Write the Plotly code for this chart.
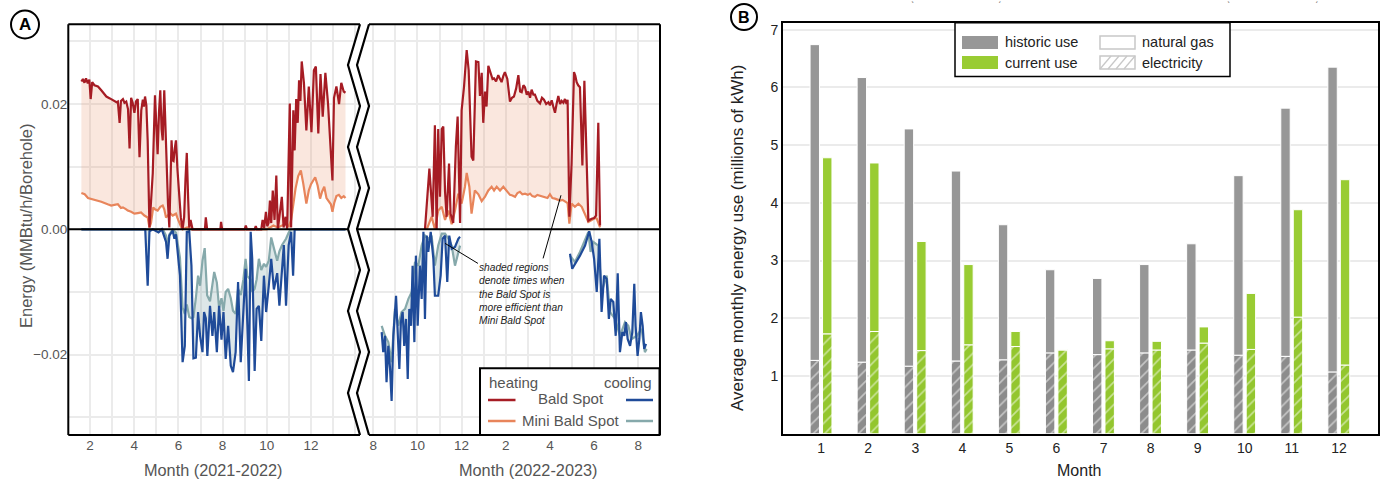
import plotly.graph_objects as go

W, H = 1381, 483

# ---------------- Panel A data (month index, value in 0.001 MMBtu/h/Borehole) ----------------
# left period: months numbered from Jan 2021 = 1 (13 = Jan 2022)
lh_bs = [(1.61,23.6),(1.68,24.0),(1.75,23.4),(1.82,24.1),(1.9,23.3),(1.97,23.9),(2.03,20.8),(2.1,23.5),(2.2,23.0),(2.36,22.8),(2.51,22.2),(2.62,21.8),(2.74,21.2),(2.9,20.9),(3.05,20.6),(3.2,20.3),(3.26,20.4),(3.34,17.0),(3.4,20.5),(3.49,20.8),(3.56,20.2),(3.64,20.4),(3.72,19.2),(3.79,12.9),(3.86,21.0),(3.93,20.2),(4.01,18.6),(4.08,20.4),(4.16,20.8),(4.24,11.5),(4.32,19.0),(4.39,20.7),(4.44,19.6),(4.49,21.2),(4.55,19.8),(4.61,14.2),(4.69,0.3),(4.76,4.5),(4.84,9.0),(4.94,21.4),(5.0,17.0),(5.06,12.0),(5.12,18.5),(5.18,22.2),(5.24,16.0),(5.29,14.2),(5.36,22.2),(5.42,15.0),(5.48,9.4),(5.53,4.0),(5.59,0.3),(5.64,8.0),(5.69,14.2),(5.74,11.0),(5.78,10.9),(5.84,13.0),(5.89,14.2),(5.96,9.4),(6.03,5.0),(6.11,1.9),(6.19,0.0),(6.26,2.0),(6.32,8.0),(6.38,12.2),(6.44,5.0),(6.49,0.3),(6.55,1.5),(6.64,0.0),(7.0,0.0),(7.2,0.0),(7.24,1.9),(7.3,0.0),(7.9,0.0),(7.93,1.2),(7.98,0.0),(9.0,0.0),(9.05,0.6),(9.1,0.0),(9.45,0.0),(9.5,0.5),(9.55,0.0),(9.75,0.0),(9.81,1.5),(9.88,0.2),(9.96,2.8),(10.02,0.5),(10.08,1.0),(10.14,4.6),(10.2,1.0),(10.27,6.2),(10.35,1.5),(10.43,8.6),(10.5,0.0),(10.58,2.5),(10.68,5.2),(10.76,0.3),(10.85,2.0),(10.92,0.0),(10.98,9.4),(11.04,20.1),(11.1,0.3),(11.2,19.0),(11.26,12.6),(11.33,20.8),(11.4,17.0),(11.46,23.8),(11.52,20.5),(11.58,26.8),(11.68,23.4),(11.79,15.8),(11.9,22.8),(11.96,18.0),(12.02,15.5),(12.13,25.4),(12.22,26.0),(12.33,15.3),(12.43,24.8),(12.53,18.0),(12.65,25.0),(12.77,20.1),(12.89,13.7),(12.97,7.8),(13.04,21.0),(13.15,22.8),(13.27,20.0),(13.37,23.4),(13.48,22.0),(13.56,21.8)]
lh_mini = [(1.61,5.8),(1.76,5.6),(1.91,5.0),(2.1,4.8),(2.36,4.6),(2.51,4.4),(2.8,4.0),(2.96,3.8),(3.1,3.9),(3.26,4.0),(3.4,3.4),(3.49,3.5),(3.64,3.2),(3.71,3.0),(3.86,2.8),(4.01,2.5),(4.16,2.6),(4.31,2.7),(4.46,2.2),(4.61,1.9),(4.69,0.3),(4.76,1.0),(4.86,3.5),(4.94,3.2),(5.06,3.0),(5.18,3.6),(5.29,3.8),(5.36,3.2),(5.44,1.9),(5.51,2.2),(5.62,2.6),(5.74,2.2),(5.89,2.5),(5.96,1.8),(6.04,1.0),(6.11,0.5),(6.19,0.0),(6.4,0.3),(6.6,0.0),(10.0,0.0),(10.3,0.6),(10.5,0.3),(10.8,0.8),(11.0,0.5),(11.1,1.5),(11.2,4.0),(11.3,6.5),(11.42,8.5),(11.54,9.4),(11.65,7.3),(11.72,6.0),(11.79,4.1),(11.9,6.2),(12.0,7.2),(12.1,7.8),(12.19,8.3),(12.3,7.0),(12.41,4.9),(12.5,6.0),(12.6,6.8),(12.7,5.0),(12.8,4.5),(12.9,4.0),(12.97,2.8),(13.05,4.2),(13.15,5.3),(13.26,5.5),(13.37,5.0),(13.48,5.3),(13.56,5.0)]
lc_bs = [(1.61,0.0),(4.5,0.0),(4.61,-9.0),(4.69,-0.3),(4.84,0.0),(5.0,-0.3),(5.1,-0.5),(5.25,0.0),(5.44,-2.0),(5.51,-4.7),(5.59,-1.0),(5.74,-0.2),(5.82,-1.5),(5.89,-0.8),(5.96,-3.7),(6.07,-7.4),(6.19,-21.2),(6.29,-18.6),(6.38,-0.4),(6.49,-0.3),(6.59,-5.8),(6.68,-20.6),(6.79,-20.5),(6.89,-13.2),(6.98,-17.0),(7.09,-19.6),(7.16,-13.2),(7.24,-14.2),(7.31,-20.2),(7.43,-12.2),(7.54,-17.0),(7.62,-13.2),(7.74,-19.6),(7.84,-12.2),(7.95,-17.6),(8.04,-13.2),(8.14,-20.7),(8.25,-15.4),(8.37,-21.8),(8.47,-22.8),(8.59,-19.6),(8.7,-8.4),(8.82,-21.2),(8.94,-12.7),(9.04,-6.3),(9.12,-15.4),(9.19,-24.2),(9.27,-0.4),(9.34,-4.7),(9.45,-22.6),(9.54,-12.7),(9.64,-12.2),(9.75,-17.8),(9.87,-7.4),(9.97,-13.2),(10.09,-9.0),(10.2,-4.7),(10.32,-9.6),(10.47,-7.0),(10.57,-12.2),(10.69,-5.3),(10.77,-2.5),(10.87,-12.2),(10.99,-2.5),(11.1,-0.4),(11.19,-7.4),(11.26,0.0),(13.56,0.0)]
lc_mini = [(1.61,0.0),(5.3,0.0),(5.44,-1.0),(5.51,-2.5),(5.59,-0.8),(5.74,0.0),(5.89,-0.5),(5.96,-2.0),(6.07,-4.5),(6.19,-12.5),(6.29,-13.5),(6.38,-12.0),(6.49,-14.0),(6.59,-14.2),(6.68,-14.0),(6.79,-11.0),(6.89,-7.4),(6.98,-9.0),(7.09,-5.0),(7.19,-3.0),(7.3,-10.5),(7.43,-11.5),(7.54,-9.0),(7.62,-6.8),(7.74,-8.5),(7.84,-12.5),(7.95,-11.0),(8.04,-13.0),(8.14,-10.0),(8.25,-9.5),(8.37,-11.0),(8.47,-13.0),(8.59,-13.5),(8.7,-9.5),(8.82,-10.5),(8.94,-8.0),(9.04,-4.7),(9.12,-7.5),(9.27,-8.0),(9.34,-10.0),(9.45,-9.5),(9.54,-8.0),(9.64,-4.7),(9.75,-6.5),(9.87,-5.5),(9.97,-6.0),(10.09,-5.0),(10.2,-1.3),(10.32,-3.0),(10.47,-5.0),(10.57,-3.5),(10.69,-2.5),(10.87,-1.5),(10.99,-0.5),(11.1,0.0),(13.56,0.0)]

# right period: months numbered from Jan 2022 = 1 (14 = Feb 2023, 20 = Aug 2023)
rh_bs = [(10.34,0.0),(10.54,9.7),(10.69,2.0),(10.79,16.6),(10.87,0.0),(10.94,16.0),(11.02,5.2),(11.1,16.0),(11.17,16.4),(11.25,6.0),(11.32,2.0),(11.43,10.5),(11.5,2.5),(11.62,1.0),(11.74,13.2),(11.82,18.0),(11.93,1.0),(12.0,19.0),(12.11,22.8),(12.23,28.6),(12.32,25.4),(12.38,18.6),(12.45,11.6),(12.53,11.0),(12.65,26.8),(12.76,26.7),(12.83,21.3),(12.91,25.0),(12.98,17.0),(13.06,22.0),(13.13,19.6),(13.21,26.1),(13.31,25.1),(13.4,24.0),(13.47,24.1),(13.56,23.6),(13.66,24.6),(13.74,24.0),(13.81,23.5),(13.89,24.5),(13.96,25.1),(14.07,24.0),(14.19,20.4),(14.28,21.0),(14.37,21.2),(14.47,22.5),(14.57,24.6),(14.65,22.0),(14.72,21.9),(14.8,23.0),(14.87,22.7),(14.95,21.5),(15.02,22.0),(15.1,21.0),(15.17,22.3),(15.25,21.5),(15.32,21.5),(15.43,20.5),(15.55,20.1),(15.64,21.0),(15.73,20.7),(15.83,20.0),(15.93,20.3),(16.0,19.8),(16.08,20.6),(16.16,19.5),(16.23,18.6),(16.3,20.0),(16.38,21.3),(16.46,20.0),(16.53,20.5),(16.61,20.2),(16.68,20.8),(16.75,20.0),(16.8,20.7),(16.88,2.0),(16.98,10.5),(17.09,25.1),(17.15,24.5),(17.21,23.5),(17.28,23.0),(17.36,22.7),(17.47,10.2),(17.56,23.7),(17.66,10.0),(17.74,1.4),(17.89,1.7),(18.0,1.8),(18.09,2.2),(18.19,17.0),(18.27,0.6)]
rh_mini = [(10.42,0.0),(10.64,2.0),(10.79,0.0),(10.94,3.0),(11.1,3.6),(11.25,1.5),(11.4,3.0),(11.55,0.8),(11.7,3.0),(11.85,5.7),(12.0,4.1),(12.15,6.8),(12.23,9.0),(12.35,6.8),(12.45,2.5),(12.6,6.2),(12.76,5.6),(12.91,4.5),(13.06,5.2),(13.21,6.2),(13.36,6.8),(13.47,6.2),(13.59,6.8),(13.74,6.2),(13.89,6.8),(14.04,6.2),(14.19,5.5),(14.3,5.4),(14.42,5.2),(14.53,5.8),(14.64,6.0),(14.75,5.6),(14.87,5.7),(15.0,5.5),(15.1,5.7),(15.2,5.3),(15.32,5.2),(15.43,5.5),(15.55,5.4),(15.66,5.2),(15.78,5.2),(15.89,5.0),(16.0,5.6),(16.11,5.0),(16.23,4.9),(16.35,4.8),(16.46,4.6),(16.57,4.7),(16.68,4.5),(16.8,4.2),(16.88,0.9),(16.98,4.1),(17.13,3.6),(17.29,4.1),(17.44,3.6),(17.52,3.0),(17.59,2.2),(17.74,1.2),(17.89,1.5),(18.05,1.8),(18.12,1.7),(18.27,0.3)]
rc_bs_a = [(8.38,-16.4),(8.45,-19.6),(8.53,-17.0),(8.6,-24.4),(8.68,-18.6),(8.76,-22.3),(8.83,-27.4),(8.91,-17.0),(9.03,-10.6),(9.1,-17.0),(9.18,-22.3),(9.25,-14.8),(9.33,-13.2),(9.4,-18.6),(9.48,-14.3),(9.56,-23.9),(9.63,-12.7),(9.71,-15.4),(9.78,-5.8),(9.86,-18.0),(9.93,-4.2),(10.01,-15.4),(10.11,-5.8),(10.19,-11.1),(10.27,-0.4),(10.34,-14.3),(10.42,-1.0),(10.49,-3.6),(10.6,-0.4),(10.72,-4.7),(10.79,-10.6),(10.94,-10.6),(11.05,-7.4),(11.14,-1.5),(11.25,-1.0),(11.35,-8.4),(11.44,-1.0),(11.55,-3.1),(11.7,-2.8),(11.85,-1.5),(11.93,-1.2)]
rc_mini_a = [(8.38,-15.4),(8.53,-17.0),(8.68,-18.0),(8.83,-21.2),(8.98,-12.7),(9.13,-15.4),(9.28,-13.2),(9.44,-12.7),(9.59,-11.1),(9.74,-10.0),(9.89,-5.2),(10.04,-5.8),(10.19,-2.6),(10.34,-1.0),(10.49,-1.5),(10.64,-1.0),(10.79,-5.8),(10.94,-2.6),(11.1,-0.7),(11.25,-0.7),(11.4,-1.5),(11.55,-2.6),(11.7,-5.8),(11.81,-4.2),(11.93,-2.6)]
rc_bs_b = [(16.91,-3.9),(17.01,-6.3),(17.36,-4.2),(17.59,-2.6),(17.78,-0.3),(17.89,-2.0),(18.0,-4.7),(18.12,-10.0),(18.24,-1.5),(18.34,-13.2),(18.45,-7.4),(18.57,-7.9),(18.67,-14.3),(18.75,-11.1),(18.87,-11.6),(18.98,-17.0),(19.07,-7.0),(19.17,-19.6),(19.28,-16.4),(19.37,-17.0),(19.44,-14.8),(19.52,-17.5),(19.63,-18.6),(19.73,-16.4),(19.82,-8.7),(19.88,-15.4),(19.97,-20.2),(20.05,-17.5),(20.12,-13.2),(20.2,-15.4),(20.27,-19.1),(20.35,-18.3)]
rc_mini_b = [(16.91,-4.2),(17.13,-5.2),(17.36,-3.6),(17.59,-1.5),(17.74,-0.4),(17.84,-3.6),(17.96,-2.0),(18.19,-2.6),(18.34,-10.0),(18.57,-7.4),(18.72,-13.2),(18.95,-14.3),(19.17,-17.0),(19.4,-14.8),(19.55,-15.4),(19.7,-17.5),(19.93,-17.0),(20.15,-15.9),(20.3,-19.6),(20.38,-19.1)]

left_ticks = [1,2,3,4,5,6,7,8,9,10,11,12,13,14]
left_ticktext = ['', '2', '', '4', '', '6', '', '8', '', '10', '', '12', '', '']
right_ticks = [8,9,10,11,12,13,14,15,16,17,18,19,20]
right_ticktext = ['8', '', '10', '', '12', '', '2', '', '4', '', '6', '', '8']
a_yticks = [-0.03, -0.02, -0.01, 0.0, 0.01, 0.02, 0.03]
a_yticktext = ['', '\u22120.02', '', '0.00', '', '0.02', '']

# ---------------- Panel B data (millions of kWh) ----------------
months_b = [1, 2, 3, 4, 5, 6, 7, 8, 9, 10, 11, 12]
hist_total = [6.74, 6.17, 5.28, 4.55, 3.62, 2.84, 2.69, 2.93, 3.29, 4.47, 5.64, 6.35]
hist_elec = [1.27, 1.24, 1.17, 1.26, 1.28, 1.40, 1.37, 1.40, 1.45, 1.36, 1.34, 1.07]
curr_total = [4.78, 4.69, 3.33, 2.93, 1.77, 1.46, 1.61, 1.60, 1.85, 2.43, 3.88, 4.40]
curr_elec = [1.73, 1.77, 1.44, 1.54, 1.51, 1.45, 1.47, 1.45, 1.57, 1.46, 2.02, 1.19]

RED, ORANGE, BLUE, TEAL = '#A61C24', '#E8855B', '#1F4B99', '#86A9AB'
HEAT_FILL = 'rgba(232,133,91,0.2)'
COOL_FILL = 'rgba(134,169,171,0.28)'
GRAY_BAR, GREEN_BAR = '#979797', '#99CC33'
GRAY_HATCH, GREEN_HATCH = '#8C8C8C', '#93C62E'
GRID = '#EBEBEB'
FONT = 'Liberation Sans, Arial, sans-serif'
TXT_A = '#555555'
TXT_B = '#222222'


def X(p):
    return p / W


def Y(p):
    return 1 - p / H


fig = go.Figure()


def add_line(pairs, color, xa, ya, fill=None, fillcolor=None):
    fig.add_trace(go.Scatter(
        x=[p[0] for p in pairs], y=[p[1] / 1000 for p in pairs], mode='lines',
        line=dict(color=color, width=2.2), fill=fill, fillcolor=fillcolor,
        xaxis=xa, yaxis=ya, showlegend=False, hoverinfo='skip'))


# left subplot
add_line(lh_mini, ORANGE, 'x', 'y')
add_line(lh_bs, RED, 'x', 'y', 'tonexty', HEAT_FILL)
add_line(lc_mini, TEAL, 'x', 'y')
add_line(lc_bs, BLUE, 'x', 'y', 'tonexty', COOL_FILL)
# right subplot
add_line(rh_mini, ORANGE, 'x2', 'y2')
add_line(rh_bs, RED, 'x2', 'y2', 'tonexty', HEAT_FILL)
add_line(rc_mini_a, TEAL, 'x2', 'y2')
add_line(rc_bs_a, BLUE, 'x2', 'y2', 'tonexty', COOL_FILL)
add_line(rc_mini_b, TEAL, 'x2', 'y2')
add_line(rc_bs_b, BLUE, 'x2', 'y2', 'tonexty', COOL_FILL)

# panel B bars
hist_gas = [t - e for t, e in zip(hist_total, hist_elec)]
curr_gas = [t - e for t, e in zip(curr_total, curr_elec)]
bar_w = 0.2
for vals, base, color, off, hatch in [
        (hist_elec, None, GRAY_HATCH, -0.235, True),
        (hist_gas, hist_elec, GRAY_BAR, -0.235, False),
        (curr_elec, None, GREEN_HATCH, 0.03, True),
        (curr_gas, curr_elec, GREEN_BAR, 0.03, False)]:
    marker = dict(color=color, line=dict(color='white', width=1))
    if hatch:
        marker['pattern'] = dict(shape='/', fgcolor='white', bgcolor=color, size=8, solidity=0.2)
    fig.add_trace(go.Bar(x=months_b, y=vals, base=base, width=bar_w, offset=off,
                         marker=marker, xaxis='x3', yaxis='y3', showlegend=False,
                         hoverinfo='skip'))

yr_a = [-0.03283, 0.03273]
axis_font_a = dict(family=FONT, size=13.5, color=TXT_A)
axis_font_b = dict(family=FONT, size=14, color=TXT_B)
fig.update_layout(
    width=W, height=H, margin=dict(l=0, r=0, t=0, b=0),
    paper_bgcolor='white', plot_bgcolor='white', barmode='overlay',
    font=dict(family=FONT, color=TXT_A),
    xaxis=dict(domain=[X(68.3), X(360)], range=[1.018, 14.217], tickmode='array',
               tickvals=left_ticks, ticktext=left_ticktext, showgrid=True, gridcolor=GRID,
               gridwidth=1.6, zeroline=False, showline=False, ticks='', tickfont=axis_font_a,
               anchor='y'),
    yaxis=dict(domain=[Y(435), Y(24.3)], range=yr_a, tickmode='array', tickvals=a_yticks,
               ticktext=a_yticktext, showgrid=True, gridcolor=GRID, gridwidth=1.6,
               zeroline=False, showline=False, ticks='', tickfont=axis_font_a, anchor='x'),
    xaxis2=dict(domain=[X(357), X(660)], range=[7.262, 20.985], tickmode='array',
                tickvals=right_ticks, ticktext=right_ticktext, showgrid=True, gridcolor=GRID,
                gridwidth=1.6, zeroline=False, showline=False, ticks='', tickfont=axis_font_a,
                anchor='y2'),
    yaxis2=dict(domain=[Y(435), Y(24.3)], range=yr_a, tickmode='array', tickvals=a_yticks,
                showticklabels=False, showgrid=True, gridcolor=GRID, gridwidth=1.6,
                zeroline=False, showline=False, ticks='', anchor='x2'),
    xaxis3=dict(domain=[X(783), X(1378)], range=[0.19, 12.83], tickmode='array',
                tickvals=months_b, ticktext=[str(m) for m in months_b], showgrid=False,
                zeroline=False, showline=True, linecolor='black', linewidth=2, mirror=True,
                ticks='', tickfont=axis_font_b, anchor='y3'),
    yaxis3=dict(domain=[Y(433.7), Y(22.7)], range=[0, 7.12], tickmode='array',
                tickvals=[1, 2, 3, 4, 5, 6, 7], showgrid=True, gridcolor=GRID, gridwidth=2,
                zeroline=False, showline=True, linecolor='black', linewidth=2, mirror=True,
                ticks='', tickfont=axis_font_b, anchor='x3'),
)

shapes = []


def pline(x0, y0, x1, y1, color='black', width=2):
    shapes.append(dict(type='line', xref='paper', yref='paper', x0=X(x0), y0=Y(y0),
                       x1=X(x1), y1=Y(y1), line=dict(color=color, width=width)))


def prect(x0, y0, x1, y1, fill, lc=None, lw=0):
    shapes.append(dict(type='rect', xref='paper', yref='paper', x0=X(x0), y0=Y(y0),
                       x1=X(x1), y1=Y(y1), fillcolor=fill,
                       line=dict(color=lc or fill, width=lw)))


# zero lines
shapes.append(dict(type='line', xref='paper', yref='y', x0=X(68.3), x1=X(348), y0=0, y1=0,
                   line=dict(color='black', width=2)))
shapes.append(dict(type='line', xref='paper', yref='y2', x0=X(357), x1=X(660), y0=0, y1=0,
                   line=dict(color='black', width=2)))
# frames of panel A
pline(68.3, 24.3, 68.3, 435)
pline(68.3, 24.3, 360, 24.3)
pline(68.3, 435, 360, 435)
pline(369, 24.3, 660, 24.3)
pline(369, 435, 660, 435)
pline(660, 24.3, 660, 435)
# zigzag axis break
zig_y = [24.3, 65, 106, 147, 188, 229, 270, 311, 352, 393, 435]
zig_l = [(360 if i % 2 == 0 else 348, yy) for i, yy in enumerate(zig_y)]
zig_r = [(x + 9, yy) for x, yy in zig_l]
poly = zig_l + zig_r[::-1]
path = 'M ' + ' L '.join(f'{X(a):.5f},{Y(b):.5f}' for a, b in poly) + ' Z'
shapes.append(dict(type='path', xref='paper', yref='paper', path=path, fillcolor='white',
                   line=dict(width=0)))
for zz in (zig_l, zig_r):
    p = 'M ' + ' L '.join(f'{X(a):.5f},{Y(b):.5f}' for a, b in zz)
    shapes.append(dict(type='path', xref='paper', yref='paper', path=p,
                       line=dict(color='black', width=2.2)))

# callout lines for the note
shapes.append(dict(type='line', xref='x2', yref='y2', x0=12.74, y0=-0.00544, x1=11.25,
                   y1=-0.00224, line=dict(color='black', width=1)))
shapes.append(dict(type='line', xref='x2', yref='y2', x0=15.69, y0=-0.00464, x1=16.5,
                   y1=0.00544, line=dict(color='black', width=1)))

# legend panel A
prect(480, 368.3, 659.5, 435, 'white', 'black', 2)
pline(488, 400, 515.5, 400, RED, 2.5)
pline(626, 400, 653, 400, BLUE, 2.5)
pline(488, 421, 515.5, 421, ORANGE, 2.5)
pline(626, 421, 653, 421, TEAL, 2.5)

# panel B legend
prect(955, 22.7, 1230, 76.5, 'white', 'black', 1.5)
prect(962, 36, 998, 49, GRAY_BAR)
prect(962, 56, 998, 69, GREEN_BAR)
prect(1100, 36, 1135, 49, 'white', '#C8C8C8', 1.5)
prect(1100, 56, 1135, 69, 'white', '#C8C8C8', 1.5)
for xs in (1100, 1108, 1116, 1124):
    xe = min(xs + 11, 1135)
    pline(xs, 69, xe, 69 - (xe - xs) * 13 / 11, '#C8C8C8', 1.3)

# panel labels
shapes.append(dict(type='circle', xref='paper', yref='paper', x0=X(11), x1=X(39), y0=Y(38.5),
                   y1=Y(10.5), line=dict(color='black', width=2), fillcolor='white'))
shapes.append(dict(type='circle', xref='paper', yref='paper', x0=X(731), x1=X(757), y0=Y(30),
                   y1=Y(4), line=dict(color='black', width=2), fillcolor='white'))

fig.update_layout(shapes=shapes)

ann = []


def text(x, y, s, size=13, color=TXT_A, xanchor='center', yanchor='middle', angle=0, **kw):
    ann.append(dict(x=X(x), y=Y(y), xref='paper', yref='paper', text=s, showarrow=False,
                    font=dict(family=FONT, size=size, color=color), xanchor=xanchor,
                    yanchor=yanchor, textangle=angle, **kw))


text(25, 24.5, '<b>A</b>', 17, 'black')
text(744, 17, '<b>B</b>', 16, 'black')
text(26, 226, 'Energy (MMBtu/h/Borehole)', 16.5, angle=-90)
text(213, 470, 'Month (2021-2022)', 16.3)
text(528, 470, 'Month (2022-2023)', 16.3)
text(738, 238, 'Average monthly energy use (millions of kWh)', 17, TXT_B, angle=-90)
text(1079, 470, 'Month', 16, TXT_B)
# legend A texts
text(487, 382, 'heating', 15, xanchor='left')
text(654, 382, 'cooling', 15, xanchor='right')
text(571, 398, 'Bald Spot', 15)
text(570.5, 420, 'Mini Bald Spot', 15)
# legend B texts
text(1003, 42.5, 'historic use', 14.5, TXT_B, xanchor='left')
text(1003, 62.5, 'current use', 14.5, TXT_B, xanchor='left')
text(1140, 42.5, 'natural gas', 14.5, TXT_B, xanchor='left')
text(1140, 62.5, 'electricity', 14.5, TXT_B, xanchor='left')
# note
text(477, 260, '<i>shaded regions<br>denote times when<br>the Bald Spot is<br>more efficient than<br>Mini Bald Spot</i>',
     10.2, TXT_B, xanchor='left', yanchor='top', align='left')
# small marks at the top of panel B
for xm, ch in [(912, '\u02cb'), (999, '\u02ca'), (1228, '\u02cb'), (1316, '\u02ca')]:
    text(xm, 7, ch, 10, '#666666')

fig.update_layout(annotations=ann)

fig.write_html("out.html", include_plotlyjs=True, full_html=True,
               config={'displayModeBar': False},
               post_script="document.body.style.margin='0px';document.body.style.overflow='hidden';")
